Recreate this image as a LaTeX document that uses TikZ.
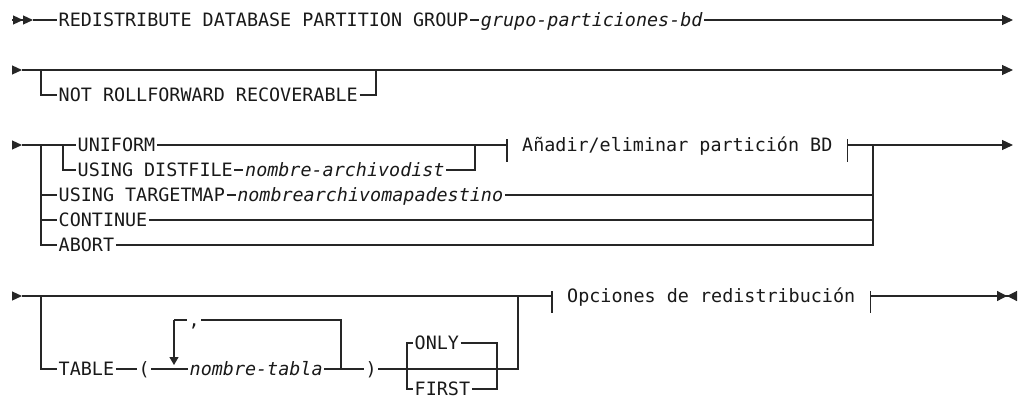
\documentclass[tikz,border=0pt]{standalone}
\usepackage{fontspec}
\setmonofont{DejaVu Sans Mono}
\usetikzlibrary{arrows.meta, positioning}
\newcommand{\railfont}{\fontsize{18.4}{22}\selectfont\ttfamily}

\begin{document}
\begin{tikzpicture}[
            x=1pt, y=-1pt,
            rail/.style={line width=1.2pt, draw=black!85, line join=miter},
            kw/.style={font=\railfont, text=black!90, anchor=west, inner xsep=1.5pt, inner ysep=0pt, text height=13.4pt, text depth=0pt},
            var/.style={kw, font=\railfont\itshape},
            frag/.style={kw, inner xsep=15pt},
            endtip/.style={-{Triangle[length=11pt,width=10pt]}},
        ]

        \useasboundingbox (0,0) rectangle (1024,400);

        % Row start markers
        \draw[rail, -{Triangle[length=10pt,width=9pt]Triangle[length=10pt,width=9pt]}] (12,20) -- (33,20) coordinate (r1s);
        \foreach \y/\n in {70/r2s, 145/r3s, 296/r4s} {
            \draw[rail, -{Triangle[length=10pt,width=9pt]}] (12,\y) -- (22,\y) coordinate (\n);
        }

        % Row 1
        \node[kw] (redist) at (57,20) {REDISTRIBUTE DATABASE PARTITION GROUP};
        \node[var, right=9pt of redist] (grupo) {grupo-particiones-bd};
        \coordinate (r1e) at (1013,20);
        \draw[rail] (r1s) -- (redist.west);
        \draw[rail] (redist.east) -- (grupo.west);
        \draw[rail, endtip] (grupo.east) -- (r1e);

        % Row 2
        \coordinate (r2a) at (41,70);
        \coordinate (r2b) at (376,70);
        \coordinate (r2e) at (1013,70);
        \node[kw] (notroll) at (57,95) {NOT ROLLFORWARD RECOVERABLE};
        \draw[rail, endtip] (r2s) -- (r2e);
        \draw[rail] (r2a) |- (notroll.west);
        \draw[rail] (notroll.east) -| (r2b);

        % Row 3
        \coordinate (r3a) at (41,145);
        \coordinate (r3b) at (63,145);
        \coordinate (r3c) at (475,145);
        \coordinate (r3d) at (873,145);
        \coordinate (r3e) at (1013,145);
        \node[kw] (uniform) at (76,145) {UNIFORM};
        \node[kw] (usingd) at (76,170) {USING DISTFILE};
        \node[var, right=9pt of usingd] (distfile) {nombre-archivodist};
        \node[frag] (anadir) at (507,145) {Añadir/eliminar partición BD};
        \node[kw] (targetmap) at (57,195) {USING TARGETMAP};
        \node[var, right=9pt of targetmap] (mapfile) {nombrearchivomapadestino};
        \node[kw] (continue) at (57,220) {CONTINUE};
        \node[kw] (abort) at (57,245) {ABORT};

        \draw[rail] (r3s) -- (uniform.west);
        \draw[rail] (uniform.east) -- (anadir.west);
        \draw[rail, endtip] (anadir.east) -- (r3e);
        \draw[rail] ([yshift=6pt]anadir.west) -- ([yshift=-17pt]anadir.west);
        \draw[rail] ([yshift=6pt]anadir.east) -- ([yshift=-17pt]anadir.east);
        \draw[rail] (r3b) |- (usingd.west);
        \draw[rail] (usingd.east) -- (distfile.west);
        \draw[rail] (distfile.east) -| (r3c);
        \draw[rail] (r3a) |- (targetmap.west);
        \draw[rail] (r3a) |- (continue.west);
        \draw[rail] (r3a) |- (abort.west);
        \draw[rail] (targetmap.east) -- (mapfile.west);
        \draw[rail] (mapfile.east) -| (r3d);
        \draw[rail] (continue.east) -| (r3d);
        \draw[rail] (abort.east) -| (r3d);

        % Row 4
        \coordinate (r4a) at (41,296);
        \coordinate (r4b) at (518,296);
        \coordinate (r4e) at (1017,296);
        \node[frag] (opciones) at (552,296) {Opciones de redistribución};
        \draw[rail] (r4s) -- (opciones.west);
        \draw[rail, -{Triangle[length=10pt,width=10pt]Triangle[length=10pt,width=10pt,reversed]}] (opciones.east) -- (r4e);
        \draw[rail] ([yshift=5pt]opciones.west) -- ([yshift=-17pt]opciones.west);
        \draw[rail] ([yshift=5pt]opciones.east) -- ([yshift=-17pt]opciones.east);

        % TABLE branch
        \node[kw] (table) at (57,369) {TABLE};
        \node[kw] (lparen) at (137,369) {(};
        \node[var] (tabla) at (188,369) {nombre-tabla};
        \node[kw] (rparen) at (364,369) {)};
        \node[kw] (only) at (413,343) {ONLY};
        \node[kw] (first) at (413,389) {FIRST};
        \coordinate (optl) at (407,369);
        \coordinate (optr) at (497,369);

        \draw[rail] (r4a) |- (table.west);
        \draw[rail] (table.east) -- (lparen.west);
        \draw[rail] (lparen.east) -- (tabla.west);
        \draw[rail] (tabla.east) -- (rparen.west);
        \draw[rail] (rparen.east) -| (r4b);
        \draw[rail] (optl) |- (only.west);
        \draw[rail] (optl) |- (first.west);
        \draw[rail] (only.east) -| (optr);
        \draw[rail] (first.east) -| (optr);

        % Repeat loop
        \coordinate (looptl) at (174,320);
        \coordinate (loopdn) at (174,365);
        \coordinate (loopr) at (341,369);
        \node[kw] (comma) at (187,320) {,};
        \draw[rail] (looptl) -- (comma.west);
        \draw[rail] (comma.east) -| (loopr);
        \draw[rail, -{Triangle[length=8pt,width=9pt]}] (looptl) -- (loopdn);

\end{tikzpicture}
\end{document}
